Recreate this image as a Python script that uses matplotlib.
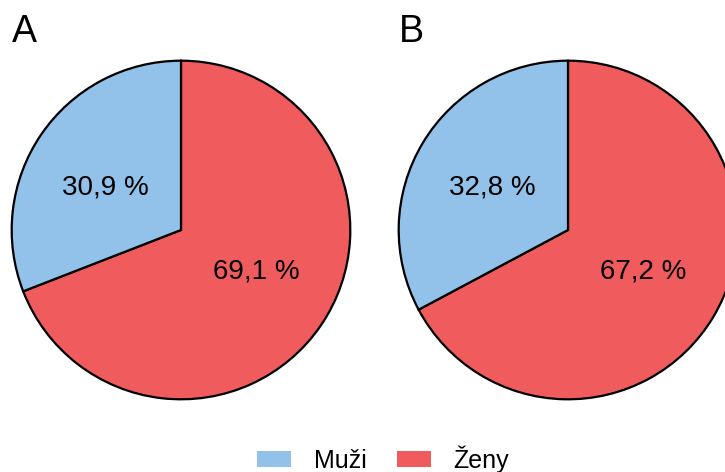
import matplotlib
matplotlib.use("Agg")
import matplotlib.pyplot as plt
from matplotlib.patches import Patch

plt.rcParams['font.family'] = ['Liberation Sans', 'DejaVu Sans']

categories = ["Muži", "Ženy"]
values_a = [30.9, 69.1]
values_b = [32.8, 67.2]
labels_a = ["30,9 %", "69,1 %"]
labels_b = ["32,8 %", "67,2 %"]
colors = ["#92C1E9", "#F05C5E"]
panel_titles = ["A", "B"]

W, H = 725, 472
fig = plt.figure(figsize=(W / 100, H / 100), dpi=100)

R = 171
centers = [(181, 230), (568, 230)]
label_offsets = [(-0.445, 0.25), (0.447, -0.247)]

for (cx, cy), vals, labs, title in zip(centers, [values_a, values_b],
                                       [labels_a, labels_b], panel_titles):
    ax = fig.add_axes([(cx - R) / W, (H - cy - R) / H, 2 * R / W, 2 * R / H])
    # order: Ženy clockwise from top, Muži fills the rest
    wedges, _ = ax.pie([vals[1], vals[0]], colors=[colors[1], colors[0]],
                       startangle=90, counterclock=False,
                       wedgeprops=dict(edgecolor="black", linewidth=1.6),
                       radius=1.0)
    ax.set_xlim(-1.01, 1.01)
    ax.set_ylim(-1.01, 1.01)
    ax.set_aspect("equal")
    for lab, (x, y) in zip(labs, label_offsets):
        ax.text(x, y, lab, ha="center", va="center", fontsize=20)
    fig.text((cx - R) / W + 0.002, (H - 32) / H, title, fontsize=27,
             ha="left", va="center")

handles = [Patch(facecolor=c, edgecolor="none") for c in colors]
fig.legend(handles, categories, loc="center", bbox_to_anchor=(383 / W, (H - 459) / H),
           ncol=2, frameon=False, fontsize=18, handlelength=1.36, handleheight=0.6,
           columnspacing=1.2, handletextpad=0.9, borderpad=0.2)

fig.savefig("out.png", dpi=100)
